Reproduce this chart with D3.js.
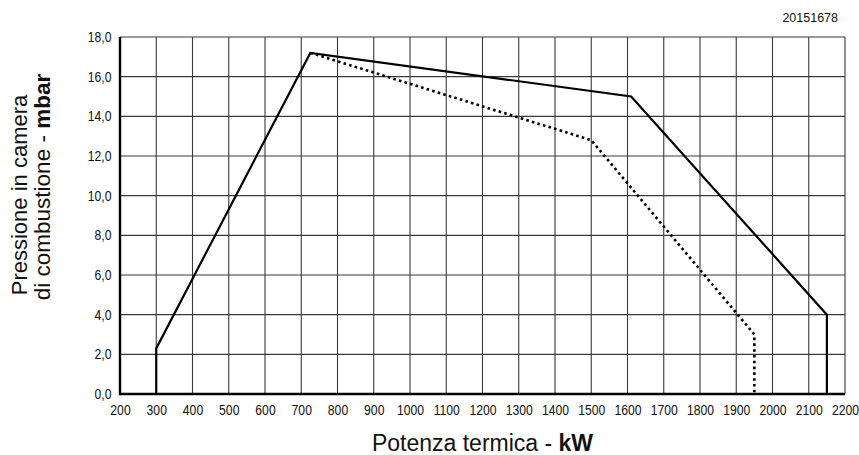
<!DOCTYPE html>
<html><head><meta charset="utf-8">
<script src="https://cdn.jsdelivr.net/npm/d3@7"></script>
<style>body{margin:0;background:#fff}svg{display:block}</style>
</head><body>
<svg id="c" width="859" height="455"></svg>
<script>
const xTicks = [200,300,400,500,600,700,800,900,1000,1100,1200,1300,1400,1500,1600,1700,1800,1900,2000,2100,2200];
const yTicks = [0,2,4,6,8,10,12,14,16,18];
const solidX = [300,300,725,1610,2150,2150];
const solidY = [0,2.3,17.2,15.0,4.0,0];
const dashX = [725,1500,1950,1950];
const dashY = [17.2,12.8,3.0,0];
const code = "20151678";

const svg = d3.select("#c");
const m = {l:120, r:14, t:37, b:61};
const W = 859, H = 455;
const x = d3.scaleLinear().domain([200,2200]).range([m.l, W-m.r]);
const y = d3.scaleLinear().domain([0,18]).range([H-m.b, m.t]);
const font = "'Liberation Sans',Arial,sans-serif";

// grid
const g = svg.append("g");
g.selectAll(".vx").data(xTicks).join("line")
  .attr("x1",d=>x(d)).attr("x2",d=>x(d)).attr("y1",y(0)).attr("y2",y(18))
  .attr("stroke","#3a3a3a").attr("stroke-width",1.1);
g.selectAll(".hy").data(yTicks).join("line")
  .attr("x1",x(200)).attr("x2",x(2200)).attr("y1",d=>y(d)).attr("y2",d=>y(d))
  .attr("stroke","#3a3a3a").attr("stroke-width",1.1);

// axes
const xAxis = d3.axisBottom(x).tickValues(xTicks).tickSize(0).tickPadding(11).tickFormat(d3.format("d"));
const ya = d3.axisLeft(y).tickValues(yTicks).tickSize(0).tickPadding(0).tickFormat(d=>d.toFixed(1).replace(".",","));
const gx = svg.append("g").attr("transform",`translate(0,${y(0)})`).call(xAxis);
const gy = svg.append("g").attr("transform",`translate(${x(200)-8.5},0)`).call(ya);
[gx,gy].forEach(a=>{
  a.select(".domain").remove();
  a.selectAll("text").attr("font-family",font).attr("font-size","14.5px").attr("fill","#111")
    .attr("transform","scale(0.84,1)");
});
gy.selectAll("text").attr("x",0);
svg.append("line").attr("x1",x(200)).attr("x2",x(2200)).attr("y1",y(0)).attr("y2",y(0)).attr("stroke","#000").attr("stroke-width",2.4);
svg.append("line").attr("x1",x(200)).attr("x2",x(200)).attr("y1",y(0)+1.2).attr("y2",y(18)).attr("stroke","#000").attr("stroke-width",2.4);

// curves
const line = d3.line().x(d=>x(d[0])).y(d=>y(d[1]));
svg.append("path").datum(dashX.map((v,i)=>[v,dashY[i]])).attr("d",line)
  .attr("fill","none").attr("stroke","#000").attr("stroke-width",2.6).attr("stroke-dasharray","2.6,3.2");
svg.append("path").datum(solidX.map((v,i)=>[v,solidY[i]])).attr("d",line)
  .attr("fill","none").attr("stroke","#000").attr("stroke-width",2.2).attr("stroke-linejoin","miter");

// titles
const xt = svg.append("text").attr("x",(x(200)+x(2200))/2).attr("y",451).attr("text-anchor","middle")
  .attr("font-family",font).attr("font-size","23px").attr("fill","#111");
xt.append("tspan").text("Potenza termica - ");
xt.append("tspan").attr("font-weight","bold").text("kW");

const yt = svg.append("text").attr("transform",`translate(27,195) rotate(-90)`).attr("text-anchor","middle")
  .attr("font-family",font).attr("fill","#111");
yt.append("tspan").attr("x",0).attr("y",0).attr("font-size","22px").text("Pressione in camera");
const t2 = yt.append("tspan").attr("x",8).attr("y",23).attr("font-size","22.5px");
t2.append("tspan").text("di combustione - ");
t2.append("tspan").attr("font-weight","bold").text("mbar");

svg.append("text").attr("x",838).attr("y",22).attr("text-anchor","end")
  .attr("font-family",font).attr("font-size","12.5px").attr("fill","#111").text(code);
</script>
</body></html>
